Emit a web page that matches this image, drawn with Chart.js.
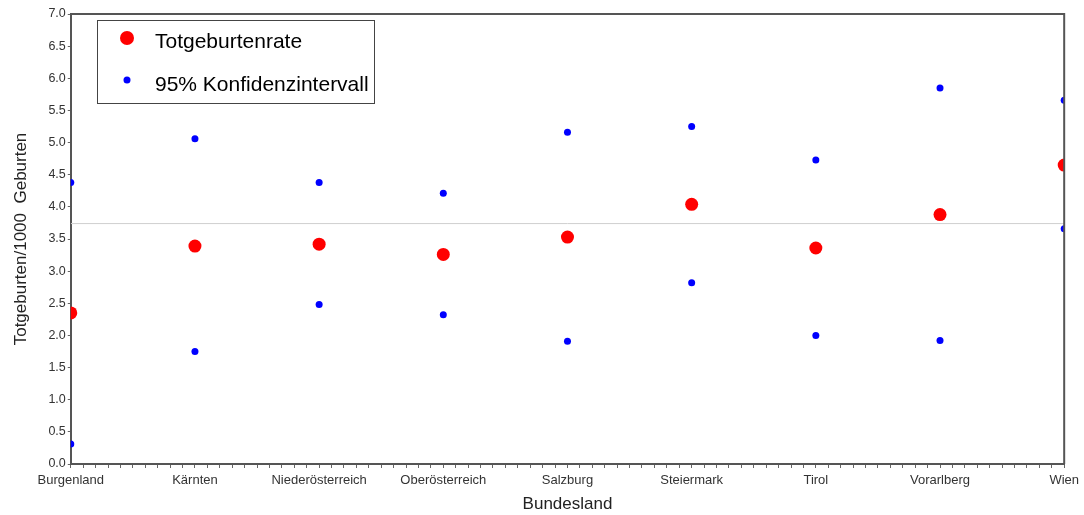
<!DOCTYPE html>
<html>
<head>
<meta charset="utf-8">
<script src="https://cdn.jsdelivr.net/npm/chart.js@4/dist/chart.umd.min.js"></script>
<style>
  html, body { margin: 0; padding: 0; background: #fff; }
  #wrap { width: 1084px; height: 515px; }
</style>
</head>
<body>
<div id="wrap"><canvas id="chart" width="1084" height="515"></canvas></div>
<script>
const bundeslaender = ['Burgenland', 'Kärnten', 'Niederösterreich', 'Oberösterreich', 'Salzburg', 'Steiermark', 'Tirol', 'Vorarlberg', 'Wien'];
const rate = [2.35, 3.39, 3.42, 3.26, 3.53, 4.04, 3.36, 3.88, 4.65];
const ciUpper = [4.38, 5.06, 4.38, 4.21, 5.16, 5.25, 4.73, 5.85, 5.66];
const ciLower = [0.31, 1.75, 2.48, 2.32, 1.91, 2.82, 2.00, 1.92, 3.66];
const overallRate = 3.74;
const yTicks = [0, 0.5, 1, 1.5, 2, 2.5, 3, 3.5, 4, 4.5, 5, 5.5, 6, 6.5, 7];

const FONT = '"Liberation Sans", Arial, sans-serif';
const toPoints = (vals) => vals.map((v, i) => ({ x: i, y: v }));

// legend box inside the plot, top-left
const boxLegend = {
  id: 'boxLegend',
  afterDraw(chart) {
    const { ctx } = chart;
    ctx.save();
    ctx.strokeStyle = '#444';
    ctx.lineWidth = 1;
    ctx.strokeRect(97.5, 20.5, 277, 83);
    ctx.fillStyle = '#ff0000';
    ctx.beginPath(); ctx.arc(127, 38, 7, 0, Math.PI * 2); ctx.fill();
    ctx.fillStyle = '#0000ff';
    ctx.beginPath(); ctx.arc(127, 80, 3.5, 0, Math.PI * 2); ctx.fill();
    ctx.fillStyle = '#000';
    ctx.font = '21px ' + FONT;
    ctx.textBaseline = 'middle';
    ctx.fillText('Totgeburtenrate', 155, 42);
    ctx.fillText('95% Konfidenzintervall', 155, 85);
    ctx.restore();
  }
};

// top/right frame of the plot
const frame = {
  id: 'frame',
  afterDraw(chart) {
    const { ctx, chartArea: a } = chart;
    ctx.save();
    ctx.strokeStyle = '#555';
    ctx.lineWidth = 2;
    ctx.beginPath();
    ctx.moveTo(a.left, a.top);
    ctx.lineTo(a.right, a.top);
    ctx.lineTo(a.right, a.bottom);
    ctx.stroke();
    ctx.restore();
  }
};

new Chart(document.getElementById('chart'), {
  type: 'scatter',
  data: {
    datasets: [
      {
        label: 'Totgeburtenrate',
        data: toPoints(rate),
        backgroundColor: '#ff0000',
        borderWidth: 0,
        pointRadius: 6.5,
        order: 1,
      },
      {
        label: '95% Konfidenzintervall',
        data: toPoints(ciUpper).concat(toPoints(ciLower)),
        backgroundColor: '#0000ff',
        borderWidth: 0,
        pointRadius: 3.5,
        order: 2,
      },
      {
        type: 'line',
        label: 'Gesamt',
        data: [{ x: 0, y: overallRate }, { x: bundeslaender.length - 1, y: overallRate }],
        borderColor: '#cfcfcf',
        borderWidth: 1,
        pointRadius: 0,
        order: 3,
      },
    ],
  },
  options: {
    responsive: false,
    animation: false,
    layout: { padding: { top: 14, right: 2, left: 7, bottom: 0 } },
    plugins: {
      legend: { display: false },
      tooltip: { enabled: false },
    },
    scales: {
      x: {
        type: 'linear',
        min: 0,
        max: bundeslaender.length - 1,
        afterBuildTicks(scale) {
          const t = [];
          for (let i = 0; i <= (bundeslaender.length - 1) * 10; i++) t.push({ value: i / 10 });
          scale.ticks = t;
        },
        ticks: {
          autoSkip: false,
          maxRotation: 0,
          padding: 5,
          color: '#333',
          font: { family: FONT, size: 13 },
          callback(v) {
            const r = Math.round(v);
            return Math.abs(v - r) < 1e-6 ? bundeslaender[r] : '';
          },
        },
        grid: { drawOnChartArea: false, tickLength: 4, tickColor: '#666' },
        border: { color: '#555', width: 2 },
        title: {
          display: true,
          text: 'Bundesland',
          color: '#222',
          font: { family: FONT, size: 17 },
          padding: { top: 1, bottom: 0 },
        },
      },
      y: {
        min: 0,
        max: 7,
        afterBuildTicks(scale) {
          scale.ticks = yTicks.map((v) => ({ value: v }));
        },
        ticks: {
          padding: 2,
          color: '#333',
          font: { family: FONT, size: 12.5 },
          callback: (v) => v.toFixed(1),
        },
        grid: { drawOnChartArea: false, tickLength: 3, tickColor: '#666' },
        border: { color: '#555', width: 2 },
        title: {
          display: true,
          text: 'Totgeburten/1000  Geburten',
          color: '#222',
          font: { family: FONT, size: 17 },
          padding: { bottom: 15 },
        },
      },
    },
  },
  plugins: [frame, boxLegend],
});
</script>
</body>
</html>
